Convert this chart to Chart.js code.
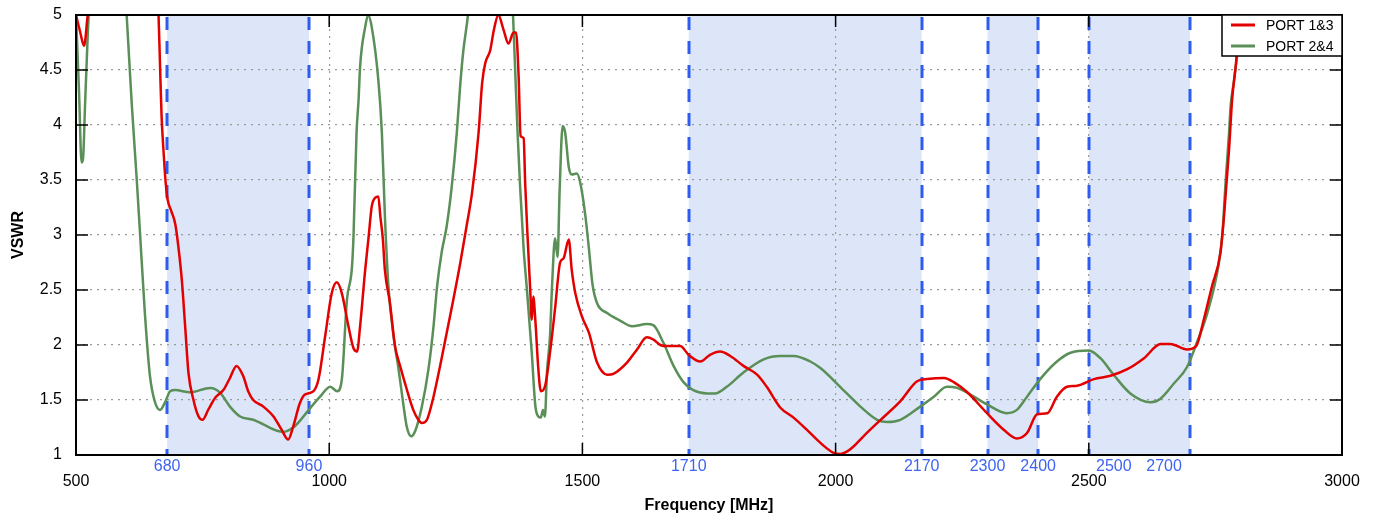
<!DOCTYPE html>
<html><head><meta charset="utf-8">
<script src="https://cdn.jsdelivr.net/npm/chart.js@4/dist/chart.umd.min.js"></script>
<style>html,body{margin:0;padding:0;background:#fff}#wrap{width:1378px;height:520px;position:relative}</style>
</head><body><div id="wrap"><canvas id="c"></canvas></div>
<script>
// ---- data ----
const xMin = 500, xMax = 3000, xStep = 500;
const yMin = 1, yMax = 5, yStep = 0.5;
const bandStart = [680, 1710, 2300, 2500];
const bandEnd   = [960, 2170, 2400, 2700];
const bandLabelValues = [680, 960, 1710, 2170, 2300, 2400, 2500, 2700];
const bandLabelText   = ['680','960','1710','2170','2300','2400','2500','2700'];
const bandLabelNudgePx = [0, 0, 0, 0, 0, 0, 25, -26];
const seriesNames = ['PORT 1&3', 'PORT 2&4'];

const port13Freq = [500,508,516,522,528,540,600,650,663,666,669,673,677,681,688,696,702,709,716,722,732,742,750,761,775,791,804,817,830,840,850,870,890,906,919,929,942,952,969,979,992,1005,1015,1025,1038,1048,1055,1061,1071,1078,1084,1091,1097,1101,1106,1110,1120,1130,1140,1153,1166,1176,1183,1193,1206,1219,1232,1245,1259,1272,1282,1295,1302,1308,1318,1325,1334,1344,1354,1364,1369,1374,1378,1384,1387,1392,1397,1400,1403,1407,1413,1418,1427,1436,1446,1456,1463,1473,1479,1486,1499,1513,1529,1549,1562,1588,1608,1627,1640,1654,1667,1693,1710,1733,1752,1772,1792,1818,1845,1864,1891,1917,1943,1970,1996,2010,2022,2036,2055,2089,2128,2161,2181,2214,2234,2260,2299,2332,2358,2378,2398,2418,2437,2457,2477,2510,2543,2576,2609,2642,2661,2694,2712,2727,2743,2760,2767,2777,2783,2790,2796,2801,2810,2830,3000];
const port13Vswr = [5.0,4.85,4.72,4.95,5.25,6.0,7.0,6.0,5.0,4.53,4.08,3.75,3.48,3.32,3.22,3.10,2.90,2.59,2.14,1.75,1.50,1.35,1.32,1.41,1.52,1.59,1.70,1.81,1.72,1.58,1.50,1.44,1.35,1.23,1.14,1.26,1.47,1.55,1.58,1.69,2.08,2.47,2.57,2.47,2.17,1.97,1.94,2.17,2.68,2.99,3.26,3.34,3.35,3.17,2.96,2.68,2.38,1.99,1.81,1.60,1.41,1.32,1.29,1.32,1.53,1.81,2.11,2.41,2.75,3.10,3.38,3.93,4.38,4.56,4.68,4.86,5.0,4.87,4.74,4.84,4.84,4.45,3.90,3.88,3.47,2.96,2.50,2.23,2.44,2.23,1.78,1.58,1.64,1.93,2.33,2.75,2.79,2.96,2.68,2.47,2.26,2.11,1.84,1.73,1.74,1.84,1.96,2.07,2.05,2.00,1.99,1.99,1.91,1.85,1.91,1.94,1.90,1.81,1.73,1.62,1.43,1.34,1.23,1.11,1.02,1.01,1.03,1.08,1.17,1.32,1.49,1.67,1.69,1.70,1.66,1.57,1.38,1.23,1.15,1.20,1.37,1.38,1.53,1.62,1.63,1.69,1.72,1.78,1.88,2.01,2.01,1.96,1.99,2.23,2.53,2.84,3.17,3.78,4.23,4.53,4.83,5.0,5.6,7.0,9.0];

const port24Freq = [500,506,511,514,518,523,527,540,580,595,600,610,620,626,636,646,656,666,676,686,696,725,765,784,804,824,850,869,897,909,929,942,956,982,1002,1016,1025,1035,1045,1048,1054,1058,1061,1071,1077,1084,1097,1104,1110,1117,1127,1137,1147,1153,1162,1170,1183,1196,1206,1213,1222,1232,1242,1252,1259,1265,1274,1285,1320,1355,1363,1367,1372,1377,1384,1390,1400,1407,1413,1418,1422,1426,1430,1436,1440,1446,1451,1455,1461,1466,1473,1479,1489,1496,1506,1513,1520,1529,1549,1575,1598,1627,1640,1660,1680,1700,1719,1746,1762,1785,1818,1858,1891,1917,1950,1970,2009,2049,2082,2102,2128,2167,2194,2220,2240,2266,2299,2338,2358,2378,2404,2437,2464,2500,2523,2549,2582,2622,2641,2668,2694,2714,2734,2757,2764,2770,2777,2780,2786,2794,2800,2810,3000];
const port24Vswr = [5.0,4.3,3.66,3.7,4.2,4.8,5.2,6.5,7.0,5.5,5.0,4.2,3.5,3.05,2.29,1.72,1.48,1.41,1.48,1.58,1.59,1.57,1.61,1.57,1.44,1.35,1.32,1.28,1.22,1.21,1.25,1.31,1.39,1.53,1.62,1.58,1.69,2.41,2.71,2.99,3.93,4.23,4.53,4.89,5.0,4.89,4.41,3.93,3.17,2.53,2.08,1.78,1.44,1.26,1.17,1.22,1.44,1.78,2.17,2.53,2.84,3.08,3.44,3.93,4.38,4.68,5.0,5.6,7.0,5.6,5.0,4.53,3.93,3.44,2.87,2.53,1.93,1.45,1.35,1.34,1.41,1.35,1.75,2.08,2.53,2.97,2.80,3.40,3.99,3.93,3.62,3.55,3.56,3.47,3.17,2.87,2.55,2.38,2.29,2.22,2.17,2.19,2.18,2.02,1.81,1.66,1.59,1.56,1.56,1.62,1.75,1.87,1.90,1.90,1.85,1.79,1.62,1.44,1.32,1.30,1.32,1.44,1.53,1.62,1.61,1.55,1.46,1.38,1.41,1.53,1.69,1.85,1.93,1.95,1.88,1.73,1.56,1.48,1.51,1.65,1.80,2.03,2.29,2.75,3.02,3.47,3.93,4.17,4.38,4.68,5.0,5.6,9.0];

// ---- styles ----
const FONT = '"Liberation Sans", Arial, Helvetica, sans-serif';
const RED = '#e30000', GREEN = '#5a8f57';
const BAND_FILL = '#dde6f8', BAND_LINE = '#2f5cf0', BAND_TEXT = '#3e64f0';

function pts(xs, ys){ return xs.map((x,i)=>({x:x, y:ys[i]})); }

const decor = {
  id: 'decor',
  beforeDraw(chart){
    const {ctx, chartArea:a, scales:{x}} = chart;
    ctx.save();
    ctx.fillStyle = BAND_FILL;
    bandStart.forEach((s,i)=>{
      const x0 = x.getPixelForValue(s), x1 = x.getPixelForValue(bandEnd[i]);
      ctx.fillRect(x0, a.top, x1-x0, a.bottom-a.top);
    });
    ctx.restore();
  },
  beforeDatasetsDraw(chart){
    const {ctx, chartArea:a, scales:{x}} = chart;
    ctx.save();
    ctx.strokeStyle = BAND_LINE; ctx.lineWidth = 3; ctx.setLineDash([13,11]);
    bandLabelValues.forEach(v=>{
      const px = Math.round(x.getPixelForValue(v));
      ctx.beginPath(); ctx.moveTo(px, a.top+2); ctx.lineTo(px, a.bottom); ctx.stroke();
    });
    ctx.restore();
  },
  afterDatasetsDraw(chart){
    const {ctx, chartArea:a, scales:{x,y}} = chart;
    ctx.save();
    // inner ticks
    ctx.strokeStyle = '#000'; ctx.lineWidth = 1.5; ctx.setLineDash([]);
    x.ticks.forEach(t=>{
      const px = x.getPixelForValue(t.value);
      ctx.beginPath(); ctx.moveTo(px, a.bottom); ctx.lineTo(px, a.bottom-12);
      ctx.moveTo(px, a.top); ctx.lineTo(px, a.top+12); ctx.stroke();
    });
    y.ticks.forEach(t=>{
      const py = y.getPixelForValue(t.value);
      ctx.beginPath(); ctx.moveTo(a.left, py); ctx.lineTo(a.left+12, py);
      ctx.moveTo(a.right, py); ctx.lineTo(a.right-12, py); ctx.stroke();
    });
    // frame
    ctx.lineWidth = 2;
    ctx.strokeRect(a.left, a.top, a.right-a.left, a.bottom-a.top);
    // band labels
    ctx.fillStyle = BAND_TEXT; ctx.font = '16px ' + FONT;
    ctx.textAlign = 'center'; ctx.textBaseline = 'middle';
    bandLabelValues.forEach((v,i)=>{
      ctx.fillText(bandLabelText[i], x.getPixelForValue(v) + bandLabelNudgePx[i], a.bottom + 12);
    });
    // legend
    const lx = a.right - 120, ly = a.top, lw = 120, lh = 41;
    ctx.fillStyle = '#fff'; ctx.fillRect(lx, ly, lw, lh);
    ctx.strokeStyle = '#000'; ctx.lineWidth = 1.5; ctx.strokeRect(lx, ly, lw, lh);
    ctx.font = '14px ' + FONT; ctx.textAlign = 'left'; ctx.fillStyle = '#000';
    chart.data.datasets.forEach((ds,i)=>{
      const yy = ly + 10 + i*21;
      ctx.strokeStyle = ds.borderColor; ctx.lineWidth = 3;
      ctx.beginPath(); ctx.moveTo(lx+9, yy); ctx.lineTo(lx+33, yy); ctx.stroke();
      ctx.fillText(ds.label, lx+44, yy+1);
    });
    ctx.restore();
  }
};

new Chart(document.getElementById('c'), {
  type: 'line',
  data: {
    datasets: [
      {label: seriesNames[0], data: pts(port13Freq, port13Vswr), borderColor: RED, borderWidth: 2.5},
      {label: seriesNames[1], data: pts(port24Freq, port24Vswr), borderColor: GREEN, borderWidth: 2.5}
    ]
  },
  options: {
    responsive: true, maintainAspectRatio: false, animation: false,
    elements: {point: {radius: 0}, line: {cubicInterpolationMode: 'monotone', fill: false}},
    datasets: {line: {clip: 0}},
    layout: {padding: {top: 15, right: 36, left: 0, bottom: 0}},
    plugins: {legend: {display: false}, tooltip: {enabled: false}},
    scales: {
      x: {
        type: 'linear', min: xMin, max: xMax,
        afterFit(s){ s.height = 65; s.paddingLeft = 0; s.paddingRight = 0; },
        afterBuildTicks(s){ s.ticks = []; for (let v = xMin; v <= xMax; v += xStep) s.ticks.push({value: v}); },
        ticks: {color: '#000', font: {family: FONT, size: 16}, padding: 17, maxRotation: 0, autoSkip: false,
                callback: v => String(v)},
        grid: {drawTicks: false, lineWidth: 1.2,
               color: c => (c.tick && (c.tick.value === xMin || c.tick.value === xMax)) ? 'rgba(0,0,0,0)' : '#9a9a9a'},
        border: {display: false, dash: [2,5]},
        title: {display: true, text: 'Frequency [MHz]', color: '#000', font: {family: FONT, size: 16, weight: 'bold'}, padding: {bottom: 5}}
      },
      y: {
        type: 'linear', min: yMin, max: yMax,
        afterFit(s){ s.width = 76; s.paddingTop = 0; s.paddingBottom = 0; },
        afterBuildTicks(s){ s.ticks = []; for (let v = yMin; v <= yMax + 1e-9; v += yStep) s.ticks.push({value: Math.round(v*10)/10}); },
        ticks: {color: '#000', font: {family: FONT, size: 16}, padding: 14, callback: v => String(v)},
        grid: {drawTicks: false, lineWidth: 1.2,
               color: c => (c.tick && (c.tick.value === yMin || c.tick.value === yMax)) ? 'rgba(0,0,0,0)' : '#9a9a9a'},
        border: {display: false, dash: [2,5]},
        title: {display: true, text: 'VSWR', color: '#000', font: {family: FONT, size: 16, weight: 'bold'}, padding: {top: 9}}
      }
    }
  },
  plugins: [decor]
});
</script>
</body></html>
